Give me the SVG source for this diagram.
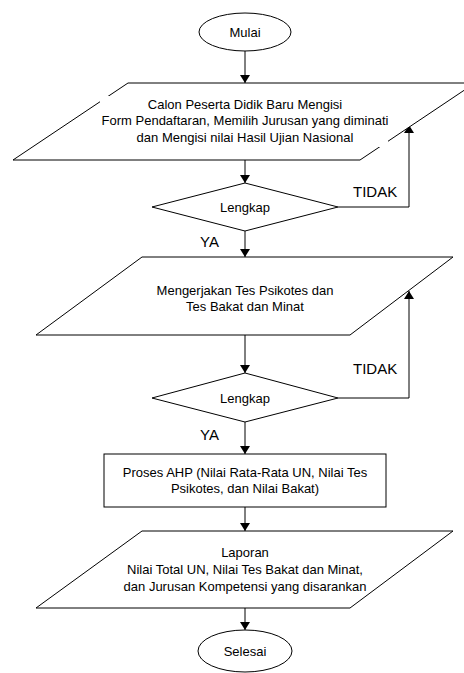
<svg xmlns="http://www.w3.org/2000/svg" width="464" height="673" viewBox="0 0 464 673">
<style>
.s{fill:#fff;stroke:#000;stroke-width:1}
.t{font-family:"Liberation Sans",Arial,sans-serif;font-size:13px;fill:#000;text-anchor:middle}
.l{font-family:"Liberation Sans",Arial,sans-serif;font-size:15px;fill:#000}
.c{fill:none;stroke:#000;stroke-width:1}
</style>
<defs>
<marker id="ah" viewBox="0 0 8 10" refX="8" refY="5" markerWidth="8" markerHeight="10" markerUnits="userSpaceOnUse" orient="auto">
<path d="M0,0 L8,5 L0,10 Z" fill="#000"/>
</marker>
</defs>
<rect width="464" height="673" fill="#fff"/>
<g id="connectors">
<line class="c" x1="245" y1="51" x2="245" y2="83" marker-end="url(#ah)"/>
<line class="c" x1="245" y1="160" x2="245" y2="183" marker-end="url(#ah)"/>
<line class="c" x1="245" y1="231" x2="245" y2="257" marker-end="url(#ah)"/>
<line class="c" x1="245" y1="335" x2="245" y2="373" marker-end="url(#ah)"/>
<line class="c" x1="245" y1="422" x2="245" y2="454" marker-end="url(#ah)"/>
<line class="c" x1="245" y1="507" x2="245" y2="531" marker-end="url(#ah)"/>
<line class="c" x1="245" y1="608" x2="245" y2="630" marker-end="url(#ah)"/>
<polyline class="c" points="338,207 409,207 409,125" marker-end="url(#ah)"/>
<polyline class="c" points="338,398 409,398 409,291" marker-end="url(#ah)"/>
<text class="l" x="353" y="197">TIDAK</text>
<text class="l" x="200" y="247">YA</text>
<text class="l" x="353" y="374">TIDAK</text>
<text class="l" x="200" y="440">YA</text>
</g>
<g id="mulai">
<ellipse class="s" cx="245" cy="32" rx="46" ry="19"/>
<text class="t" x="245" y="37">Mulai</text>
</g>
<g id="input-form">
<polygon class="s" points="128,83 475,83 360,160 13,160"/>
<rect x="100" y="96" width="288" height="51" fill="#fff"/>
<text class="t" x="245" y="108.5">Calon Peserta Didik Baru Mengisi</text>
<text class="t" x="245" y="125">Form Pendaftaran, Memilih Jurusan yang diminati</text>
<text class="t" x="245" y="141.5">dan Mengisi nilai Hasil Ujian Nasional</text>
</g>
<g id="lengkap1">
<polygon class="s" points="245,183 338,207 245,231 152,207"/>
<text class="t" x="245" y="212">Lengkap</text>
</g>
<g id="tes">
<polygon class="s" points="142,257 453,257 350,335 36,335"/>
<text class="t" x="245" y="295">Mengerjakan Tes Psikotes dan</text>
<text class="t" x="245" y="311">Tes Bakat dan Minat</text>
</g>
<g id="lengkap2">
<polygon class="s" points="245,373 338,398 245,422 152,398"/>
<text class="t" x="245" y="403">Lengkap</text>
</g>
<g id="ahp">
<rect class="s" x="104" y="454" width="282" height="53"/>
<text class="t" x="245" y="477">Proses AHP (Nilai Rata-Rata UN, Nilai Tes</text>
<text class="t" x="245" y="493">Psikotes, dan Nilai Bakat)</text>
</g>
<g id="laporan">
<polygon class="s" points="142,531 453,531 350,608 36,608"/>
<text class="t" x="245" y="557">Laporan</text>
<text class="t" x="245" y="574">Nilai Total UN, Nilai Tes Bakat dan Minat,</text>
<text class="t" x="245" y="591">dan Jurusan Kompetensi yang disarankan</text>
</g>
<g id="selesai">
<ellipse class="s" cx="245" cy="651" rx="47" ry="21"/>
<text class="t" x="245" y="656">Selesai</text>
</g>
</svg>
